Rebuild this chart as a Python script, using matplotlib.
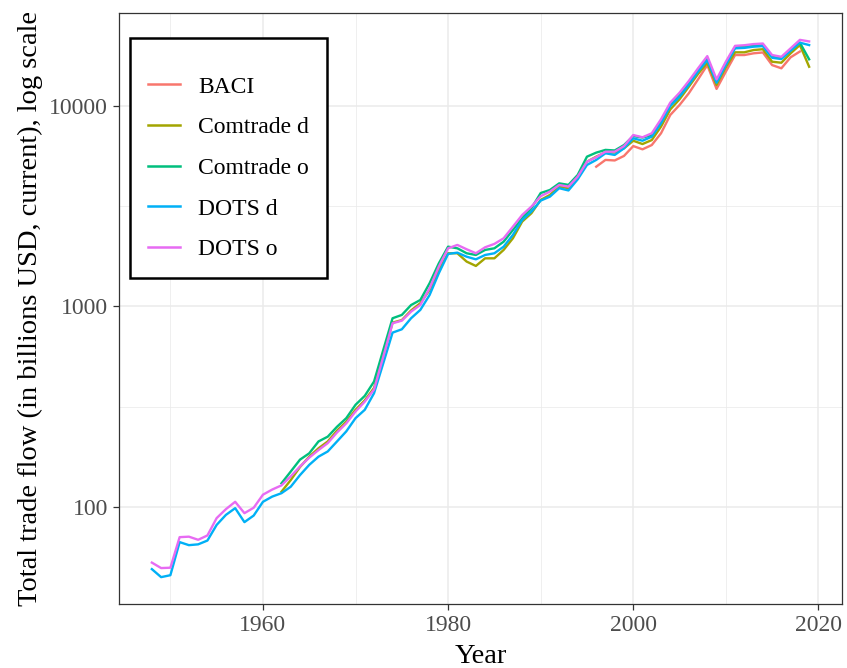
import numpy as np
import matplotlib
matplotlib.use("Agg")
import matplotlib.pyplot as plt
from matplotlib.ticker import FixedLocator, NullFormatter

plt.rcParams['font.family'] = ['Liberation Serif', 'DejaVu Serif']

# --- data (billions USD, current) ---
dots_years = list(range(1948, 2020))
dots_o = [52.7, 49.5, 49.7, 70.6, 71, 68.5, 72, 87.9, 97.4, 106,
          93, 99, 115, 122, 128, 142, 159, 176, 192, 208,
          235, 261, 299, 335, 385, 562, 824, 849, 942, 1017,
          1233, 1580, 1950, 2027, 1929, 1842, 1973, 2051, 2188, 2500,
          2859, 3148, 3550, 3740, 4036, 3960, 4443, 5275, 5550, 5915,
          5915, 6310, 7165, 6980, 7310, 8590, 10400, 11650, 13330, 15420,
          17740, 13580, 16630, 19960, 20100, 20370, 20500, 17960, 17600, 19400,
          21380, 21000]
dots_d = [48.9, 44.6, 45.6, 66.7, 64.4, 65, 67.9, 81.3, 91.2, 98.5,
          83.9, 90.5, 106, 112.5, 117, 126, 144, 162, 178, 189,
          212, 238, 277, 305, 369, 521, 740, 769, 873, 961,
          1140, 1465, 1828, 1855, 1771, 1718, 1806, 1842, 1987, 2275,
          2700, 2972, 3373, 3530, 3890, 3790, 4306, 5080, 5383, 5810,
          5700, 6150, 6900, 6710, 7030, 8200, 10000, 11120, 12740, 14830,
          16950, 13060, 16000, 19400, 19500, 19770, 19900, 17400, 17150, 18870,
          20700, 20140]

comtrade_years = list(range(1962, 2020))
comtrade_o = [131, 150, 172, 185, 212, 224, 251, 277, 323, 358,
              422, 607, 873, 907, 1016, 1077, 1305, 1641, 1987, 1950,
              1842, 1806, 1914, 1950, 2104, 2408, 2756, 3091, 3680, 3811,
              4113, 4040, 4529, 5588, 5853, 6040, 6000, 6386, 7080, 6960,
              7150, 8360, 10115, 11350, 12980, 15130, 17300, 13220, 16330, 19630,
              19700, 19950, 20100, 17600, 17300, 19020, 20700, 17100]
comtrade_d = [119, 136, 158, 178, 196, 212, 240, 266, 305, 340,
              392, 566, 830, 855, 955, 1038, 1208, 1521, 1842, 1842,
              1674, 1592, 1738, 1738, 1914, 2188, 2649, 2917, 3400, 3600,
              3960, 3890, 4357, 5275, 5588, 5875, 5860, 6150, 6710, 6460,
              6760, 7890, 9610, 10800, 12470, 14450, 16440, 12740, 15600, 18530,
              18530, 19020, 19200, 16630, 16440, 18320, 20140, 15700]

baci_years = list(range(1996, 2019))
baci = [4980, 5383, 5350, 5635, 6310, 6080, 6386, 7310, 9020, 10115,
        11570, 13580, 16000, 12170, 14830, 17960, 17960, 18320, 18500, 16000,
        15420, 17500, 18700]

series = [
    ("BACI", baci_years, baci, "#F8766D"),
    ("Comtrade d", comtrade_years, comtrade_d, "#A3A500"),
    ("Comtrade o", comtrade_years, comtrade_o, "#00BF7D"),
    ("DOTS d", dots_years, dots_d, "#00B0F6"),
    ("DOTS o", dots_years, dots_o, "#E76BF3"),
]

fig = plt.figure(figsize=(8.47, 6.68), dpi=100)
ax = fig.add_axes([119 / 847, 1 - 604 / 668, 723 / 847, 591 / 668])

for name, yrs, vals, col in series:
    ax.plot(yrs, vals, color=col, lw=1.7, label=name, solid_joinstyle='round')

ax.set_yscale('log')

# ggplot-like 5% expansion
all_x = np.concatenate([np.array(s[1]) for s in series])
all_y = np.log10(np.concatenate([np.array(s[2], dtype=float) for s in series]))
dx = (all_x.max() - all_x.min()) * 0.05
dy = (all_y.max() - all_y.min()) * 0.05
ax.set_xlim(all_x.min() - dx, all_x.max() + dx)
ax.set_ylim(10 ** (all_y.min() - dy), 10 ** (all_y.max() + dy))

ax.xaxis.set_major_locator(FixedLocator([1960, 1980, 2000, 2020]))
ax.xaxis.set_minor_locator(FixedLocator([1950, 1970, 1990, 2010]))
ax.yaxis.set_major_locator(FixedLocator([100, 1000, 10000]))
ax.yaxis.set_minor_locator(FixedLocator([10 ** 1.5, 10 ** 2.5, 10 ** 3.5]))
ax.yaxis.set_minor_formatter(NullFormatter())
ax.set_yticklabels(["100", "1000", "10000"])
ax.set_xticklabels(["1960", "1980", "2000", "2020"])

ax.grid(which='major', color='#EBEBEB', lw=1.1)
ax.grid(which='minor', color='#EBEBEB', lw=0.55)
ax.set_axisbelow(True)

for sp in ax.spines.values():
    sp.set_color('#333333')
    sp.set_linewidth(0.9)

ax.tick_params(which='major', length=4, width=0.9, color='#333333',
               labelcolor='#4D4D4D', labelsize=17, pad=4)
ax.tick_params(which='minor', length=0)

ax.set_xlabel("Year", fontsize=20.5, labelpad=6)
ax.set_ylabel("Total trade flow (in billions USD, current), log scale",
              fontsize=20.5, labelpad=4)

leg = ax.legend(loc='upper left', bbox_to_anchor=(11 / 723, 566 / 591),
                borderaxespad=0, fontsize=17, frameon=True, fancybox=False,
                edgecolor='black', framealpha=1, handlelength=1.36,
                handletextpad=0.76, labelspacing=0.81, borderpad=0.76,
                title=' ', title_fontsize=1)
leg.get_frame().set_linewidth(1.8)
for h in leg.get_lines():
    h.set_linewidth(1.8)

fig.savefig("out.png", dpi=100)
